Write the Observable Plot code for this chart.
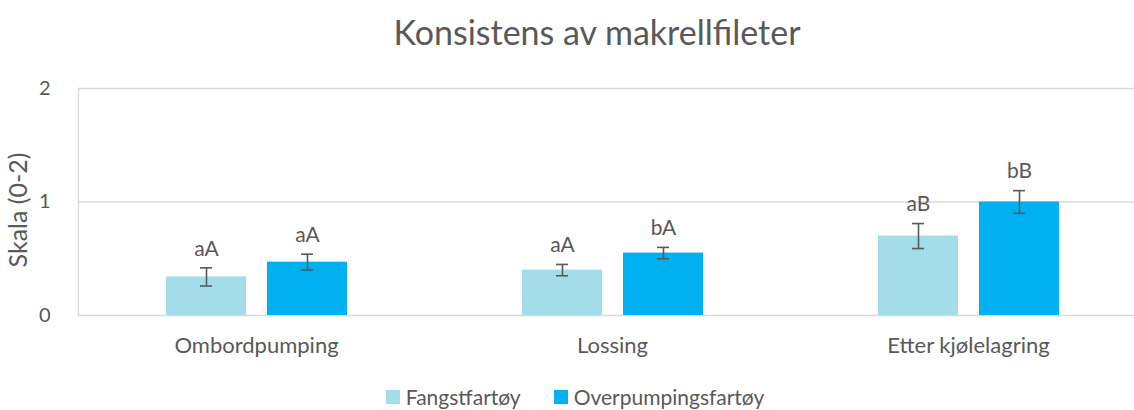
<!DOCTYPE html>
<html>
<head>
<meta charset="utf-8">
<script src="https://cdn.jsdelivr.net/npm/d3@7"></script>
<script src="https://cdn.jsdelivr.net/npm/@observablehq/plot@0.6"></script>
<style>
  body { margin: 0; background: #fff; font-family: Lato, "Open Sans", sans-serif; color: #595959; }
  #wrap { width: 1134px; height: 410px; overflow: hidden; position: relative; }
  #title { height: 60px; line-height: 64px; font-size: 34px; text-align: center; padding-left: 60px; box-sizing: border-box; }
  #legend { display: flex; justify-content: center; gap: 33px; font-size: 21px; padding-left: 16px; margin-top: 4px; }
  .item { display: flex; align-items: center; gap: 6px; }
  .sw { width: 14px; height: 14px; display: inline-block; }
</style>
</head>
<body>
<div id="wrap">
  <div id="title">Konsistens av makrellfileter</div>
  <div id="chart"></div>
  <div id="legend"></div>
</div>
<script>
const categories = ["Ombordpumping", "Lossing", "Etter kjølelagring"];
const series = ["Fangstfartøy", "Overpumpingsfartøy"];
const colors = ["#A3DDEA", "#00B0F0"];
const fangstValues = [0.34, 0.40, 0.70];
const overValues = [0.47, 0.55, 1.00];
const fangstErr = [0.08, 0.05, 0.11];
const overErr = [0.07, 0.05, 0.10];
const fangstLabels = ["aA", "aA", "aB"];
const overLabels = ["aA", "bA", "bB"];
const yTicks = [0, 1, 2];

const rows = [];
categories.forEach((c, i) => {
  rows.push({cat: c, s: series[0], v: fangstValues[i], e: fangstErr[i], lab: fangstLabels[i]});
  rows.push({cat: c, s: series[1], v: overValues[i], e: overErr[i], lab: overLabels[i]});
});

const grey = "#595959";
const chart = Plot.plot({
  width: 1134,
  height: 320,
  marginTop: 28,
  marginBottom: 65,
  marginLeft: 78,
  marginRight: 0,
  style: {fontFamily: "Lato, 'Open Sans', sans-serif", color: grey, background: "white"},
  fx: {domain: categories, range: [78, 1146], padding: 0, label: null},
  x: {domain: series, paddingInner: 0.208, paddingOuter: 0.866, axis: null},
  y: {domain: [0, 2], ticks: yTicks},
  color: {domain: series, range: colors},
  marks: [
    Plot.ruleY(yTicks, {stroke: "#D9D9D9", strokeWidth: 1.3}),
    Plot.frame({anchor: "left", stroke: "#D9D9D9", strokeWidth: 1.3, facetAnchor: "left"}),
    Plot.axisY({ticks: yTicks, tickSize: 0, tickPadding: 28, fontSize: 20, label: null, tickFormat: d3.format("d")}),
    Plot.text(["Skala (0-2)"], {frameAnchor: "left", textAnchor: "middle", rotate: -90, dx: -60, dy: 8, fontSize: 25, fill: grey, facetAnchor: "left"}),
    Plot.axisFx({anchor: "bottom", tickSize: 0, tickPadding: 22, fontSize: 22, label: null}),
    Plot.barY(rows, {fx: "cat", x: "s", y: "v", fill: "s"}),
    Plot.ruleX(rows, {fx: "cat", x: "s", y1: d => d.v - d.e, y2: d => d.v + d.e, stroke: grey, strokeWidth: 1.6}),
    Plot.tickY(rows, {fx: "cat", x: "s", y: d => d.v + d.e, stroke: grey, strokeWidth: 1.6, insetLeft: 34, insetRight: 34}),
    Plot.tickY(rows, {fx: "cat", x: "s", y: d => d.v - d.e, stroke: grey, strokeWidth: 1.6, insetLeft: 34, insetRight: 34}),
    Plot.text(rows, {fx: "cat", x: "s", y: d => d.v + d.e, text: "lab", dy: -19, fontSize: 21, fill: grey})
  ]
});
document.getElementById("chart").appendChild(chart);

const legend = document.getElementById("legend");
series.forEach((s, i) => {
  const it = document.createElement("div");
  it.className = "item";
  it.innerHTML = `<span class="sw" style="background:${colors[i]}"></span><span>${s}</span>`;
  legend.appendChild(it);
});
</script>
</body>
</html>
